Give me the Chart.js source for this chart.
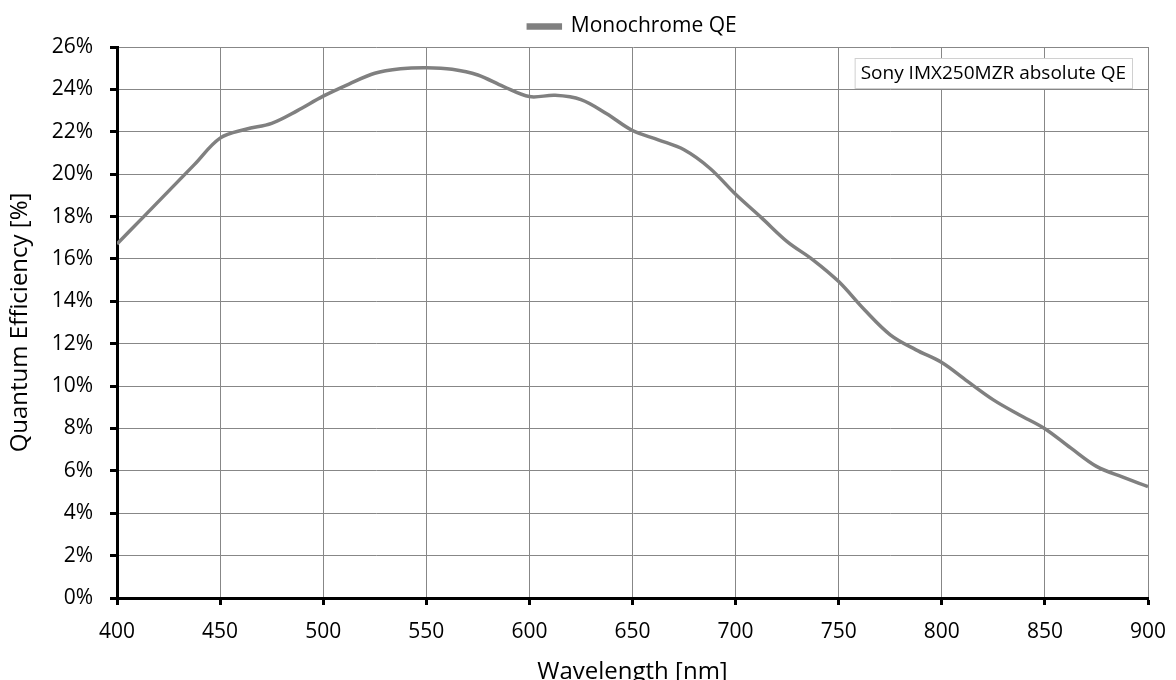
<!DOCTYPE html>
<html>
<head>
<meta charset="utf-8">
<title>Sony IMX250MZR QE</title>
<script src="https://cdn.jsdelivr.net/npm/chart.js@4.4.1/dist/chart.umd.min.js"></script>
<style>
  html, body { margin: 0; padding: 0; background: #fff; overflow: hidden; }
  /* a bit taller than the window so the x title gets clipped like the original */
  #wrap { position: relative; width: 1176px; height: 689px; }
</style>
</head>
<body>
<div id="wrap"><canvas id="qeChart"></canvas></div>
<script>
// wavelength [nm] and absolute QE [%]
const wavelengths = [400, 412.5, 425, 437.5, 450, 462.5, 475, 487.5, 500, 512.5, 525, 537.5, 550,
  562.5, 575, 587.5, 600, 612.5, 625, 637.5, 650, 662.5, 675, 687.5, 700, 712.5, 725, 737.5, 750,
  762.5, 775, 787.5, 800, 812.5, 825, 837.5, 850, 862.5, 875, 887.5, 900];
const monoQE = [16.7, 17.95, 19.2, 20.45, 21.7, 22.12, 22.4, 23.0, 23.68, 24.25, 24.76, 24.97, 25.02,
  24.95, 24.68, 24.13, 23.66, 23.72, 23.52, 22.85, 22.06, 21.62, 21.15, 20.28, 19.05, 17.95, 16.82, 15.96, 14.93,
  13.6, 12.42, 11.71, 11.11, 10.22, 9.35, 8.65, 7.99, 7.08, 6.21, 5.71, 5.26];

const xTicks = [400, 450, 500, 550, 600, 650, 700, 750, 800, 850, 900];
const yTicks = [0, 2, 4, 6, 8, 10, 12, 14, 16, 18, 20, 22, 24, 26];

const seriesLabel = 'Monochrome QE';
const noteText = 'Sony IMX250MZR absolute QE';
const xTitle = 'Wavelength [nm]';
const yTitle = 'Quantum Efficiency [%]';

const FONT = '"Open Sans", "DejaVu Sans", sans-serif';
const lineGrey = '#808080';
const gridGrey = '#878787';

// small text box in the upper right corner of the plot
const noteBox = {
  id: 'noteBox',
  afterDraw(chart) {
    const { ctx, chartArea } = chart;
    ctx.save();
    ctx.font = '19px ' + FONT;
    const w = ctx.measureText(noteText).width + 12;
    const h = 30;
    const x = chartArea.right - 16 - w;
    const y = chartArea.top + 11;
    ctx.fillStyle = '#fff';
    ctx.fillRect(x, y, w, h);
    ctx.strokeStyle = '#d0d0d0';
    ctx.lineWidth = 1;
    ctx.strokeRect(x + 0.5, y + 0.5, w, h);
    ctx.fillStyle = '#000';
    ctx.textBaseline = 'middle';
    ctx.fillText(noteText, x + 6, y + h / 2 + 1);
    ctx.restore();
  }
};

const points = wavelengths.map((w, i) => ({ x: w, y: monoQE[i] }));

new Chart(document.getElementById('qeChart'), {
  type: 'line',
  data: {
    datasets: [{
      label: seriesLabel,
      data: points,
      borderColor: lineGrey,
      backgroundColor: lineGrey,
      borderWidth: 3.5,
      pointRadius: 0,
      tension: 0.35,
      fill: false
    }]
  },
  options: {
    responsive: true,
    maintainAspectRatio: false,
    animation: false,
    layout: { padding: { left: 0, right: 28, top: 2, bottom: 0 } },
    plugins: {
      tooltip: { enabled: false },
      legend: {
        display: true,
        position: 'top',
        fullSize: false,
        labels: {
          boxWidth: 32,
          boxHeight: 3,
          color: '#000',
          padding: 14,
          font: { family: FONT, size: 21 }
        }
      }
    },
    scales: {
      x: {
        type: 'linear',
        min: 400,
        max: 900,
        afterBuildTicks: s => { s.ticks = xTicks.map(v => ({ value: v })); },
        border: { display: true, color: '#000', width: 3 },
        grid: { color: gridGrey, lineWidth: 1, tickColor: '#000', tickWidth: 3, tickLength: 7 },
        ticks: { color: '#000', padding: 14, maxRotation: 0, font: { family: FONT, size: 21 } },
        title: { display: true, text: xTitle, color: '#000', font: { family: FONT, size: 24 }, padding: { top: 0, bottom: 2 } },
        afterFit: s => { s.height = 91; s.paddingLeft = 0; s.paddingRight = 0; }
      },
      y: {
        min: 0,
        max: 26,
        afterBuildTicks: s => { s.ticks = yTicks.map(v => ({ value: v })); },
        border: { display: true, color: '#000', width: 3 },
        grid: { color: gridGrey, lineWidth: 1, tickColor: '#000', tickWidth: 3, tickLength: 7 },
        ticks: { color: '#000', padding: 17, font: { family: FONT, size: 21 }, callback: v => v + '%' },
        title: { display: true, text: yTitle, color: '#000', font: { family: FONT, size: 24 }, padding: { top: 6, bottom: 0 } },
        afterFit: s => { s.width = 117; }
      }
    }
  },
  plugins: [noteBox]
});
</script>
</body>
</html>
